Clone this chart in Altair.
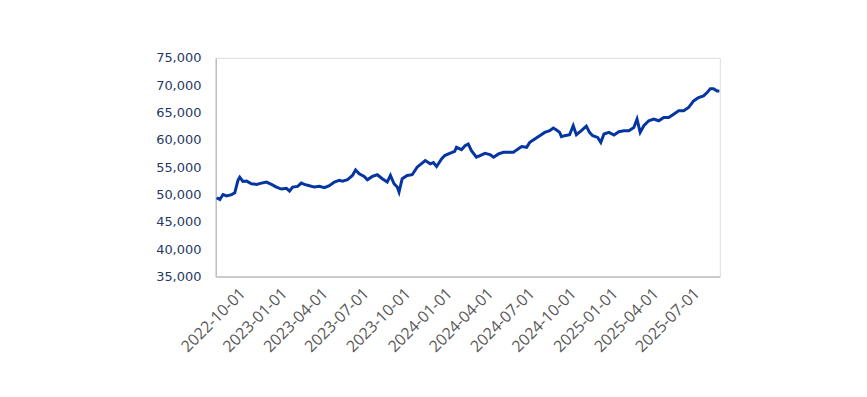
import altair as alt
import pandas as pd

dates = [
    "2022-08-05", "2022-08-12", "2022-08-19", "2022-08-27", "2022-09-07", "2022-09-14",
    "2022-09-21", "2022-09-25", "2022-10-02", "2022-10-10", "2022-10-21", "2022-11-01",
    "2022-11-12", "2022-11-23", "2022-12-04", "2022-12-15", "2022-12-26", "2023-01-06",
    "2023-01-13", "2023-01-20", "2023-01-31", "2023-02-08", "2023-02-15", "2023-02-26",
    "2023-03-09", "2023-03-20", "2023-03-31", "2023-04-11", "2023-04-22", "2023-05-03",
    "2023-05-10", "2023-05-21", "2023-06-01", "2023-06-08", "2023-06-16", "2023-06-27",
    "2023-07-04", "2023-07-15", "2023-07-26", "2023-08-06", "2023-08-17", "2023-08-24",
    "2023-09-01", "2023-09-08", "2023-09-12", "2023-09-19", "2023-09-30", "2023-10-11",
    "2023-10-22", "2023-11-02", "2023-11-09", "2023-11-20", "2023-11-27", "2023-12-04",
    "2023-12-15", "2023-12-22", "2024-01-02", "2024-01-13", "2024-01-17", "2024-01-28",
    "2024-02-05", "2024-02-12", "2024-02-19", "2024-03-01", "2024-03-09", "2024-03-20",
    "2024-03-31", "2024-04-08", "2024-04-19", "2024-04-30", "2024-05-11", "2024-05-22",
    "2024-05-29", "2024-06-09", "2024-06-20", "2024-06-27", "2024-07-08", "2024-07-19",
    "2024-07-30", "2024-08-10", "2024-08-18", "2024-08-25", "2024-09-01", "2024-09-05",
    "2024-09-12", "2024-09-23", "2024-10-01", "2024-10-08", "2024-10-19", "2024-10-30",
    "2024-11-06", "2024-11-13", "2024-11-24", "2024-12-01", "2024-12-08", "2024-12-19",
    "2024-12-30", "2025-01-10", "2025-01-21", "2025-02-01", "2025-02-12", "2025-02-19",
    "2025-02-26", "2025-03-06", "2025-03-17", "2025-03-28", "2025-04-08", "2025-04-19",
    "2025-04-30", "2025-05-11", "2025-05-22", "2025-06-02", "2025-06-13", "2025-06-24",
    "2025-07-05", "2025-07-16", "2025-07-24", "2025-07-31", "2025-08-07", "2025-08-15",
    "2025-08-20",
]

values = [
    49400, 49070, 50000, 49730, 49980, 50300,
    52580, 53180, 52400, 52450, 51970, 51850,
    52090, 52270, 51850, 51360, 51000, 51120,
    50640, 51360, 51490, 52090, 51850, 51610,
    51360, 51490, 51250, 51610, 52270, 52580,
    52450, 52700, 53490, 54500, 53800, 53310,
    52700, 53310, 53620, 52890, 52270, 53490,
    51970, 51360, 50450, 52890, 53490, 53620,
    55000, 55730, 56220, 55620, 55850, 55130,
    56520, 57120, 57540, 57910, 58630, 58200,
    58940, 59250, 58030, 56820, 57120, 57540,
    57310, 56820, 57430, 57730, 57730, 57730,
    58160, 58760, 58630, 59540, 60160, 60760,
    61360, 61670, 62160, 61800, 61360, 60580,
    60760, 60940, 62580, 60940, 61670, 62500,
    61360, 60760, 60450, 59540, 61070, 61360,
    60890, 61490, 61670, 61670, 62270, 63800,
    61360, 62580, 63490, 63800, 63490, 64090,
    64090, 64700, 65300, 65300, 65910, 67120,
    67730, 68030, 68640, 69360, 69360, 68940,
    68940,
]

x_domain = ["2022-08-03", "2025-08-21"]
x_ticks = [
    "2022-10-01", "2023-01-01", "2023-04-01", "2023-07-01", "2023-10-01",
    "2024-01-01", "2024-04-01", "2024-07-01", "2024-10-01", "2025-01-01",
    "2025-04-01", "2025-07-01",
]
y_ticks = [35000, 40000, 45000, 50000, 55000, 60000, 65000, 70000, 75000]

df = pd.DataFrame({"date": dates, "value": values})


def dt(s):
    y, m, d = (int(p) for p in s.split("-"))
    return alt.DateTime(year=y, month=m, date=d, utc=True)


chart = (
    alt.Chart(df)
    .mark_line(color="#0535a0", strokeWidth=3)
    .encode(
        x=alt.X(
            "date:T",
            scale=alt.Scale(type="utc", domain=[dt(s) for s in x_domain]),
            axis=alt.Axis(
                title=None,
                values=[dt(s) for s in x_ticks],
                labelExpr="utcFormat(datum.value, '%Y-%m-%d')",
                labelAngle=-45,
                labelAlign="right",
                labelBaseline="middle",
                labelPadding=14,
                labelFont="Open Sans",
                labelFontSize=16,
                labelColor="#595959",
                ticks=False,
                grid=False,
                domainColor="#bfbfbf",
                domainWidth=1.5,
                labelOverlap=False,
                labelFlush=False,
            ),
        ),
        y=alt.Y(
            "value:Q",
            scale=alt.Scale(domain=[35000, 75000], nice=False, zero=False),
            axis=alt.Axis(
                title=None,
                values=y_ticks,
                format=",.0f",
                labelFont="DejaVu Sans",
                labelFontSize=13,
                labelColor="#1f3864",
                labelPadding=15,
                ticks=False,
                grid=False,
                domainColor="#bfbfbf",
                domainWidth=1.5,
                labelOverlap=False,
            ),
        ),
    )
    .properties(
        width=507,
        height=220,
        autosize=alt.AutoSizeParams(type="none"),
        padding={"left": 209, "top": 49, "right": 140, "bottom": 110},
    )
    .configure_view(strokeOpacity=0, strokeWidth=0)
    .configure(background="white")
)

chart.save("out.html", embed_options={"renderer": "svg", "actions": False})
